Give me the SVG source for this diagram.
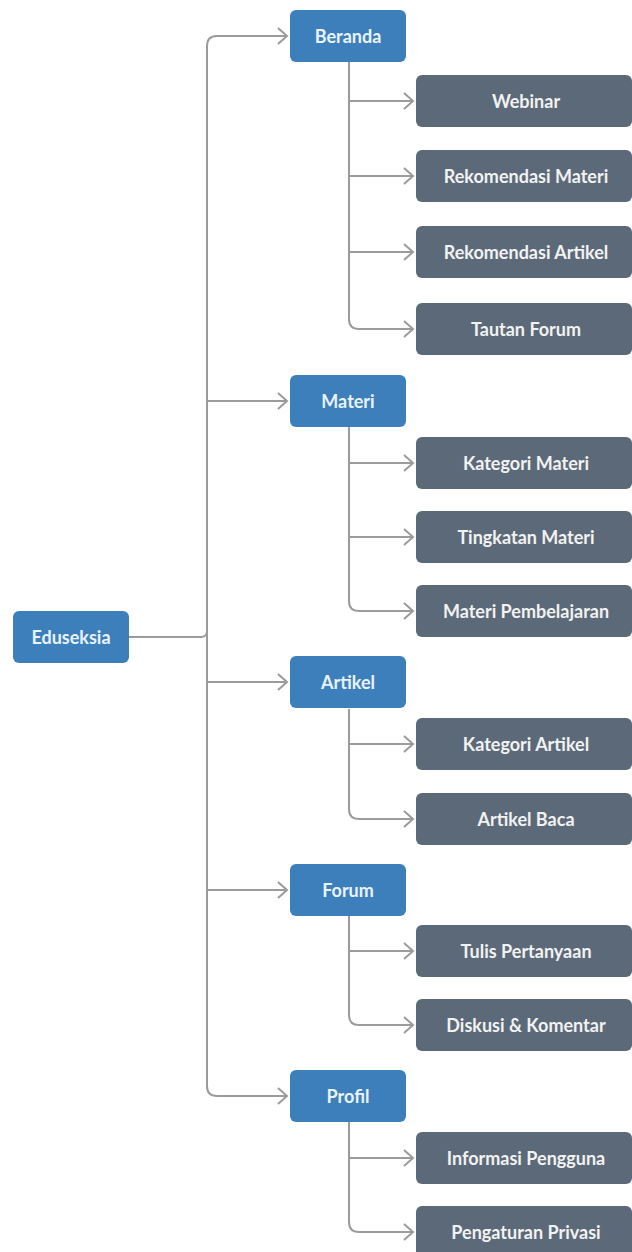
<svg xmlns="http://www.w3.org/2000/svg" width="632" height="1252" viewBox="0 0 632 1252">
<defs>
<marker id="arr" markerUnits="userSpaceOnUse" markerWidth="14" markerHeight="20" refX="11" refY="9" orient="auto">
<path d="M2,1 L11,9 L2,17" fill="none" stroke="#9b9b9e" stroke-width="2"/>
</marker>
<style>
.p{fill:#3d7fbb}
.c{fill:#5b6978}
.t{font-family:Lato,"Open Sans",sans-serif;font-weight:700;font-size:18px;text-anchor:middle;dominant-baseline:central}
.pt{fill:#e9f3fb}
.ct{fill:#f2f2f2}
.l{fill:none;stroke:#9b9b9e;stroke-width:2}
</style>
</defs>
<rect width="632" height="1252" fill="#ffffff"/>
<g id="connectors">
<path class="l" d="M129,637 L201,637 Q207,637 207,631"/>
<path class="l" d="M207,1086 L207,46 Q207,36 217,36 L287,36" marker-end="url(#arr)"/>
<path class="l" d="M207,1086 Q207,1096 217,1096 L287,1096" marker-end="url(#arr)"/>
<path class="l" d="M207,401 L287,401" marker-end="url(#arr)"/>
<path class="l" d="M207,682 L287,682" marker-end="url(#arr)"/>
<path class="l" d="M207,890 L287,890" marker-end="url(#arr)"/>
<path class="l" d="M349,62 L349,319 Q349,329 359,329 L413,329" marker-end="url(#arr)"/>
<path class="l" d="M349,101 L413,101" marker-end="url(#arr)"/>
<path class="l" d="M349,176 L413,176" marker-end="url(#arr)"/>
<path class="l" d="M349,252 L413,252" marker-end="url(#arr)"/>
<path class="l" d="M349,427 L349,601 Q349,611 359,611 L413,611" marker-end="url(#arr)"/>
<path class="l" d="M349,463 L413,463" marker-end="url(#arr)"/>
<path class="l" d="M349,537 L413,537" marker-end="url(#arr)"/>
<path class="l" d="M349,709 L349,809 Q349,819 359,819 L413,819" marker-end="url(#arr)"/>
<path class="l" d="M349,744 L413,744" marker-end="url(#arr)"/>
<path class="l" d="M349,916 L349,1015 Q349,1025 359,1025 L413,1025" marker-end="url(#arr)"/>
<path class="l" d="M349,951 L413,951" marker-end="url(#arr)"/>
<path class="l" d="M349,1122 L349,1222 Q349,1232 359,1232 L413,1232" marker-end="url(#arr)"/>
<path class="l" d="M349,1158 L413,1158" marker-end="url(#arr)"/>
</g>
<g id="eduseksia"><rect class="p" x="13" y="611" width="116" height="52" rx="6"/><text class="t pt" x="71" y="637">Eduseksia</text></g>
<g id="beranda"><rect class="p" x="290" y="10" width="116" height="52" rx="6"/><text class="t pt" x="348" y="36">Beranda</text></g>
<g id="materi"><rect class="p" x="290" y="375" width="116" height="52" rx="6"/><text class="t pt" x="348" y="401">Materi</text></g>
<g id="artikel"><rect class="p" x="290" y="656" width="116" height="52" rx="6"/><text class="t pt" x="348" y="682">Artikel</text></g>
<g id="forum"><rect class="p" x="290" y="864" width="116" height="52" rx="6"/><text class="t pt" x="348" y="890">Forum</text></g>
<g id="profil"><rect class="p" x="290" y="1070" width="116" height="52" rx="6"/><text class="t pt" x="348" y="1096">Profil</text></g>
<g id="webinar"><rect class="c" x="416" y="75" width="216" height="52" rx="6"/><text class="t ct" x="526" y="101">Webinar</text></g>
<g id="rek-materi"><rect class="c" x="416" y="150" width="216" height="52" rx="6"/><text class="t ct" x="526" y="176">Rekomendasi Materi</text></g>
<g id="rek-artikel"><rect class="c" x="416" y="226" width="216" height="52" rx="6"/><text class="t ct" x="526" y="252">Rekomendasi Artikel</text></g>
<g id="tautan-forum"><rect class="c" x="416" y="303" width="216" height="52" rx="6"/><text class="t ct" x="526" y="329">Tautan Forum</text></g>
<g id="kategori-materi"><rect class="c" x="416" y="437" width="216" height="52" rx="6"/><text class="t ct" x="526" y="463">Kategori Materi</text></g>
<g id="tingkatan-materi"><rect class="c" x="416" y="511" width="216" height="52" rx="6"/><text class="t ct" x="526" y="537">Tingkatan Materi</text></g>
<g id="materi-pembelajaran"><rect class="c" x="416" y="585" width="216" height="52" rx="6"/><text class="t ct" x="526" y="611">Materi Pembelajaran</text></g>
<g id="kategori-artikel"><rect class="c" x="416" y="718" width="216" height="52" rx="6"/><text class="t ct" x="526" y="744">Kategori Artikel</text></g>
<g id="artikel-baca"><rect class="c" x="416" y="793" width="216" height="52" rx="6"/><text class="t ct" x="526" y="819">Artikel Baca</text></g>
<g id="tulis-pertanyaan"><rect class="c" x="416" y="925" width="216" height="52" rx="6"/><text class="t ct" x="526" y="951">Tulis Pertanyaan</text></g>
<g id="diskusi"><rect class="c" x="416" y="999" width="216" height="52" rx="6"/><text class="t ct" x="526" y="1025">Diskusi &amp; Komentar</text></g>
<g id="informasi-pengguna"><rect class="c" x="416" y="1132" width="216" height="52" rx="6"/><text class="t ct" x="526" y="1158">Informasi Pengguna</text></g>
<g id="pengaturan-privasi"><rect class="c" x="416" y="1206" width="216" height="52" rx="6"/><text class="t ct" x="526" y="1232">Pengaturan Privasi</text></g>
</svg>
